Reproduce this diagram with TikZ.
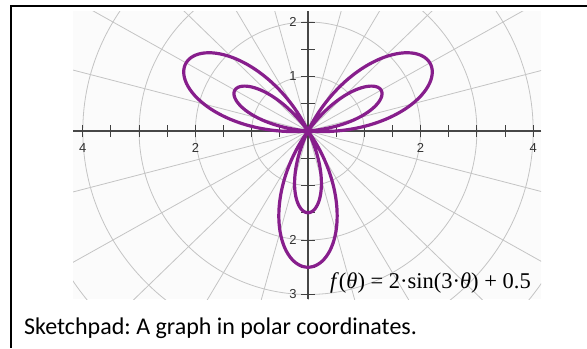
\documentclass[tikz,border=0pt]{standalone}
\usepackage{fontspec}
\setmainfont{Carlito}
\newfontfamily\serifnum{Liberation Serif}
\newfontfamily\ticksans{Liberation Sans}
\usepackage{tikz}
\usetikzlibrary{positioning}
\frenchspacing
\definecolor{ppurple}{HTML}{871E8C}
\definecolor{pgridc}{HTML}{C4C4C4}
\definecolor{paxisc}{HTML}{474747}
\definecolor{pback}{HTML}{FBFBFB}
\tikzset{
  pframe/.style={black, line width=2pt},
  pgrid/.style={pgridc, line width=0.8pt},
  paxis/.style={paxisc, line width=1.4pt},
  ptick/.style={black!75, line width=1pt},
  pcurve/.style={ppurple, line width=3.2pt, line join=round},
  plbl/.style={black!80, font=\ticksans\fontsize{13}{13}\selectfont, inner sep=0pt},
  pformula/.style={font=\serifnum\fontsize{22.5}{24}\selectfont, inner sep=0pt, anchor=base west},
  pcaption/.style={font=\fontsize{24}{28}\selectfont, inner sep=0pt, anchor=base west},
}

\begin{document}
\begin{tikzpicture}[x=56.3pt,y=54.5pt]
  \useasboundingbox (-5.471,-3.982) rectangle (4.956,2.404);

  % cadre
  \coordinate (ftop) at (4.956,2.299);
  \coordinate (fcorner) at (-5.275,2.299);
  \coordinate (fbot) at (-5.275,-3.982);
  \draw[pframe] (ftop) -- (fcorner) -- (fbot);

  % fond et grille polaire
  \fill[pback] (-4.174,-3.083) rectangle (4.139,2.202);
  \begin{scope}
    \clip (-4.174,-3.083) rectangle (4.139,2.202);
    \foreach \r in {1,...,6} \draw[pgrid] (0,0) circle[radius=\r];
    \foreach \a in {0,15,...,345} \draw[pgrid] (0,0) -- (\a:6);
  \end{scope}

  % axes et graduations
  \draw[paxis] (-4.174,0) -- (4.139,0);
  \draw[paxis] (0,-3.083) -- (0,2.202);
  \foreach \t in {-4,-3.5,...,4} \draw[ptick] (\t,-0.11) -- (\t,0.11);
  \foreach \t in {-3,-2.5,...,2} \draw[ptick] (-0.12,\t) -- (0.12,\t);

  \node[plbl] (xl1) at (-4,-0.31) {4};
  \node[plbl] (xl2) at (-2,-0.31) {2};
  \node[plbl] (xl3) at (2,-0.31) {2};
  \node[plbl] (xl4) at (4,-0.31) {4};
  \node[plbl, anchor=east] (yl1) at (-0.2,2) {2};
  \node[plbl, anchor=east] (yl2) at (-0.2,1) {1};
  \node[plbl, anchor=east] (yl3) at (-0.2,-2) {2};
  \node[plbl, anchor=east] (yl4) at (-0.2,-3) {3};

  % courbe r = 2 sin(3t) + 0.5
  \draw[pcurve] plot[domain=0:360, samples=361, smooth] (\x:{2*sin(3*\x)+0.5});

  \node[pformula] (formula) at (0.39,-2.881)
    {\textit{f}(\textit{θ}) = 2·sin(3·\textit{θ}) + 0.5};
  \node[pcaption] (caption) at (-5.044,-3.743)
    {Sketchpad: A graph in polar coordinates.};

\end{tikzpicture}
\end{document}
